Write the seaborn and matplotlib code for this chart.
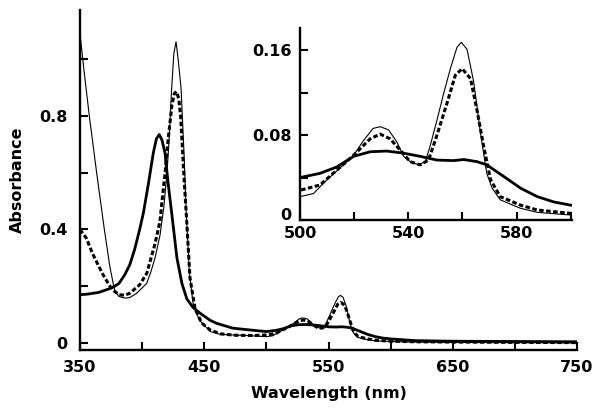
"""
Absorptionsspektren (3 Proben) mit Ausschnitt 500-600 nm als Inset.
"""
import matplotlib
matplotlib.use("Agg")
import matplotlib.pyplot as plt
import matplotlib.transforms as mtransforms
import pandas as pd
import seaborn as sns
from matplotlib.ticker import FixedLocator

sns.set_theme(style="white")
plt.rcParams["font.family"] = ["DejaVu Sans"]
plt.rcParams["font.weight"] = "bold"
plt.rcParams["text.color"] = "black"
plt.rcParams["axes.labelcolor"] = "black"

# --- Daten ----------------------------------------------------------------
# duenne Linie
wl_thin = [350, 353.5, 357.5, 363.4, 369.6, 374, 377.6, 381, 384, 387, 390, 395.6,
           403.7, 407, 410.4, 414.4, 417.5, 420, 421.5, 423.8, 425.5, 427.3, 429,
           431.3, 433.7, 435.5, 438, 441, 446, 455, 463, 473, 485,
           500, 505, 510, 514.8, 519.8, 523.5, 527, 529.6, 532.7, 535.8, 538.3,
           540.7, 543.8, 546.3, 548, 550.6, 553, 555.6, 558, 559.6, 561.7, 564.2,
           566.7, 569, 571, 574, 581.5, 587.7, 600, 620, 650, 700, 750]
abs_thin = [1.09, 0.95, 0.80, 0.60, 0.40, 0.27, 0.19, 0.165, 0.16, 0.158, 0.16, 0.175,
            0.21, 0.25, 0.30, 0.38, 0.48, 0.60, 0.70, 0.90, 1.02, 1.062, 1.0,
            0.90, 0.67, 0.46, 0.25, 0.14, 0.08, 0.04, 0.03, 0.028, 0.026,
            0.022, 0.025, 0.038, 0.049, 0.061, 0.075,
            0.0863, 0.088, 0.085, 0.0735, 0.060, 0.055, 0.052, 0.055, 0.069, 0.094,
            0.1185, 0.143, 0.1628, 0.1675, 0.161, 0.13, 0.0816, 0.044, 0.030, 0.019,
            0.011, 0.0072, 0.0047, 0.003, 0.002, 0.001, 0.0]

# gestrichelte Linie
wl_dash = [350, 355, 360, 364, 368, 372, 376, 381.7, 386, 390, 398, 403.7, 410.4,
           414.4, 416, 418.5, 421, 424, 426, 427.8, 429.5, 431, 433.5, 436, 438.5,
           442.6, 448, 454.6, 463, 475, 490,
           500, 507.4, 513.6, 519.8, 525.9, 529.6, 533.3, 537, 540.7, 544.4, 547.5,
           550.6, 554.3, 557.4, 559.9, 563, 565.4, 567.9, 570.4, 574, 581.5, 587.7,
           600, 620, 650, 700, 750]
abs_dash = [0.40, 0.37, 0.316, 0.28, 0.245, 0.215, 0.187, 0.17, 0.168, 0.175, 0.205,
            0.245, 0.35, 0.43, 0.50, 0.60, 0.72, 0.84, 0.88, 0.886, 0.86, 0.80, 0.60,
            0.42, 0.23, 0.12, 0.07, 0.046, 0.032, 0.027, 0.026,
            0.028, 0.033, 0.047, 0.061, 0.0765, 0.081, 0.0765, 0.066, 0.055, 0.052,
            0.0565, 0.08, 0.11, 0.1365, 0.1427, 0.1333, 0.1035, 0.069, 0.038, 0.022,
            0.014, 0.0094, 0.0063, 0.004, 0.003, 0.002, 0.001]

# dicke Linie
wl_thick = [350, 356, 365, 373, 378, 381.4, 386, 390, 394, 398, 401, 405, 409,
            411.5, 413.8, 416, 418.4, 421, 423.8, 428, 432, 436, 441, 446.6, 454.6,
            460, 473, 486,
            500, 507.4, 513.6, 519.8, 525.9, 532, 538.3, 544.4, 550.6, 556.8, 560.5,
            565.4, 569, 575.3, 581.5, 587.7, 593.8, 600, 620, 650, 700, 750]
abs_thick = [0.17, 0.172, 0.178, 0.19, 0.20, 0.21, 0.24, 0.275, 0.33, 0.40, 0.458,
             0.56, 0.67, 0.72, 0.735, 0.715, 0.67, 0.56, 0.458, 0.30, 0.21, 0.155,
             0.125, 0.105, 0.08, 0.069, 0.052, 0.046,
             0.040, 0.044, 0.050, 0.060, 0.0643, 0.065, 0.063, 0.060, 0.0565, 0.056,
             0.057, 0.055, 0.052, 0.041, 0.030, 0.022, 0.017, 0.014, 0.008, 0.006,
             0.005, 0.004]

main_xticks = [350, 450, 550, 650, 750]
main_xminor = [400, 500, 600, 700]
main_yticks = [0, 0.4, 0.8]
main_yminor = [0.2, 0.6, 1.0]
inset_xticks = [500, 540, 580]
inset_xminor = [520, 560, 600]
inset_yticks = [0, 0.08, 0.16]
inset_yminor = [0.04, 0.12]

df_thin = pd.DataFrame({"wl": wl_thin, "A": abs_thin})
df_dash = pd.DataFrame({"wl": wl_dash, "A": abs_dash})
df_thick = pd.DataFrame({"wl": wl_thick, "A": abs_thick})


def draw_curves(ax):
    sns.lineplot(data=df_thin, x="wl", y="A", ax=ax, color="black", lw=0.8, sort=False)
    sns.lineplot(data=df_dash, x="wl", y="A", ax=ax, color="black", lw=2.2,
                 linestyle=(0, (1.5, 0.8)), sort=False)
    sns.lineplot(data=df_thick, x="wl", y="A", ax=ax, color="black", lw=2.0, sort=False)


def style_axes(ax, xt, xm, yt, ym, ylabels):
    for s in ["top", "right"]:
        ax.spines[s].set_visible(False)
    for s in ["left", "bottom"]:
        ax.spines[s].set_linewidth(1.7)
        ax.spines[s].set_color("black")
    ax.xaxis.set_major_locator(FixedLocator(xt))
    ax.xaxis.set_minor_locator(FixedLocator(xm))
    ax.yaxis.set_major_locator(FixedLocator(yt))
    ax.yaxis.set_minor_locator(FixedLocator(ym))
    ax.set_xticklabels([str(v) for v in xt])
    ax.set_yticklabels(ylabels)
    ax.tick_params(which="both", direction="in", length=6, width=1.5, color="black",
                   left=True, bottom=True, labelsize=11.5, labelcolor="black")
    ax.grid(False)
    ax.set_facecolor("white")


fig = plt.figure(figsize=(6.02, 4.15), dpi=100)
ax = fig.add_axes([80 / 602, 1 - 350 / 415, 497 / 602, 340 / 415])
draw_curves(ax)
ax.set_xlim(350, 750)
ax.set_ylim(-0.025, 1.174)
style_axes(ax, main_xticks, main_xminor, main_yticks, main_yminor, ["0", "0.4", "0.8"])
ax.tick_params(axis="x", pad=7)
ax.tick_params(axis="y", pad=9)
ax.set_xlabel("Wavelength (nm)", fontsize=11.5, fontweight="bold", labelpad=8)
ax.set_ylabel("Absorbance", fontsize=11.5, fontweight="bold", labelpad=10)

ins = fig.add_axes([300 / 602, 1 - 220 / 415, 272 / 602, 192 / 415])
draw_curves(ins)
ins.set_xlim(500, 600.5)
ins.set_ylim(0, 0.181)
style_axes(ins, inset_xticks, inset_xminor, inset_yticks, inset_yminor, ["0", "0.08", "0.16"])
ins.tick_params(axis="x", pad=4)
ins.tick_params(axis="y", pad=6)
ins.set_xlabel("")
ins.set_ylabel("")

# die "0" des Insets sitzt knapp ueber der "500"
zero = ins.get_yticklabels()[0]
zero.set_transform(zero.get_transform()
                   + mtransforms.ScaledTranslation(0, 4 / 72, fig.dpi_scale_trans))

fig.savefig("out.png", dpi=100)
